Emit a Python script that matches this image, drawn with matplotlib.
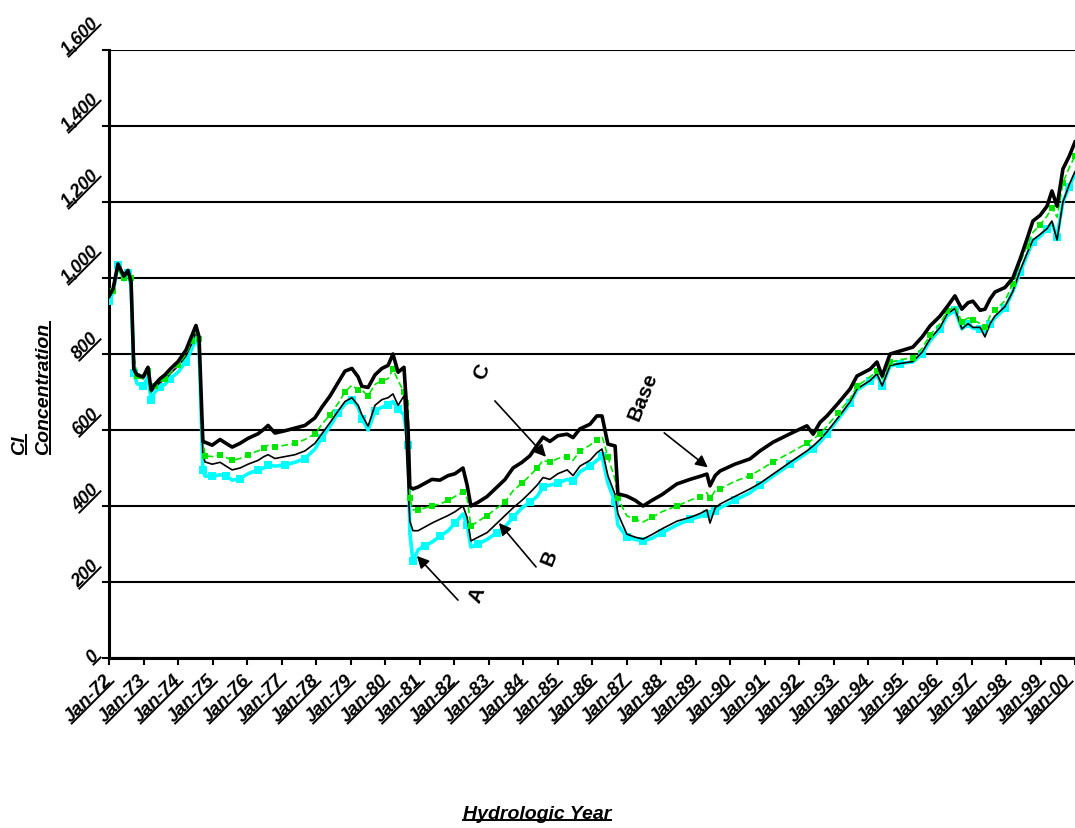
import math
import matplotlib
matplotlib.use("Agg")
import matplotlib.pyplot as plt
from matplotlib.lines import Line2D
from matplotlib.transforms import ScaledTranslation

# time axis in decimal hydrologic years
years = [
    1972.00, 1972.12, 1972.26, 1972.43, 1972.55, 1972.64, 1972.72, 1972.81, 1972.99, 1973.13,
    1973.22, 1973.33, 1973.48, 1973.62, 1973.77, 1974.00, 1974.23, 1974.41, 1974.52, 1974.61,
    1974.72, 1974.78, 1974.99, 1975.22, 1975.39, 1975.57, 1975.80, 1976.03, 1976.32, 1976.49,
    1976.61, 1976.81, 1977.10, 1977.39, 1977.68, 1977.97, 1978.17, 1978.41, 1978.64, 1978.84,
    1979.04, 1979.22, 1979.33, 1979.51, 1979.71, 1979.91, 1980.09, 1980.23, 1980.38, 1980.55,
    1980.67, 1980.72, 1980.81, 1980.96, 1981.16, 1981.36, 1981.59, 1981.83, 1982.03, 1982.26,
    1982.38, 1982.49, 1982.70, 1982.96, 1983.25, 1983.48, 1983.71, 1983.97, 1984.20, 1984.41,
    1984.58, 1984.78, 1985.01, 1985.28, 1985.45, 1985.65, 1985.94, 1986.14, 1986.29, 1986.46,
    1986.67, 1986.75, 1987.01, 1987.25, 1987.48, 1987.74, 1988.03, 1988.46, 1988.84, 1989.13,
    1989.33, 1989.42, 1989.57, 1989.71, 1990.14, 1990.58, 1990.87, 1991.25, 1991.74, 1992.23,
    1992.41, 1992.61, 1992.81, 1993.13, 1993.48, 1993.68, 1994.06, 1994.26, 1994.41, 1994.64,
    1994.93, 1995.30, 1995.57, 1995.80, 1996.09, 1996.29, 1996.52, 1996.72, 1996.90, 1997.04,
    1997.25, 1997.39, 1997.54, 1997.68, 1997.97, 1998.20, 1998.41, 1998.61, 1998.78, 1998.99,
    1999.19, 1999.33, 1999.48, 1999.65, 1999.83, 2000.00,
]

# Cl concentration, base case
base = [
    952, 972, 1037, 1005, 1020, 990, 760, 745, 740, 765,
    705, 720, 735, 745, 760, 780, 810, 850, 875, 845,
    570, 568, 560, 575, 565, 555, 565, 578, 590, 602,
    612, 592, 598, 605, 612, 632, 660, 690, 725, 755,
    762, 740, 715, 712, 745, 762, 770, 800, 752, 765,
    600, 450, 445, 450, 460, 470, 468, 480, 485, 500,
    455, 400, 410, 425, 450, 470, 500, 515, 532, 560,
    581, 570, 585, 589, 580, 603, 615, 637, 637, 563,
    558, 432, 426, 415, 400, 415, 430, 458, 470, 478,
    484, 453, 480, 492, 510, 524, 545, 568, 590, 611,
    589, 620, 637, 670, 708, 742, 760, 779, 742, 800,
    808, 818, 845, 874, 900, 924, 953, 918, 935, 939,
    915, 918, 945, 963, 975, 1000, 1050, 1103, 1150, 1165,
    1189, 1229, 1189, 1287, 1320, 1358,
]

# alternative C
alt_c = [
    948, 965, 1022, 1000, 1010, 1000, 800, 742, 735, 755,
    700, 715, 728, 735, 750, 770, 800, 835, 860, 840,
    600, 532, 530, 535, 528, 520, 525, 535, 545, 552,
    560, 555, 560, 565, 575, 590, 615, 640, 670, 700,
    718, 705, 705, 690, 720, 730, 735, 760, 730, 700,
    680, 420, 390, 390, 395, 400, 405, 415, 425, 437,
    420, 347, 360, 375, 395, 410, 440, 460, 480, 500,
    520, 515, 525, 530, 520, 545, 560, 575, 584, 530,
    470, 420, 374, 365, 358, 370, 385, 400, 415, 425,
    435, 420, 440, 445, 465, 480, 495, 516, 540, 565,
    576, 590, 610, 645, 682, 715, 740, 755, 735, 778,
    785, 790, 815, 850, 880, 912, 925, 885, 895, 890,
    880, 870, 900, 915, 940, 985, 1040, 1085, 1120, 1140,
    1163, 1185, 1160, 1250, 1290, 1321,
]

# alternative B
alt_b = [
    950, 968, 1032, 1003, 1018, 990, 765, 740, 735, 755,
    700, 712, 725, 732, 748, 768, 795, 830, 858, 835,
    540, 516, 510, 515, 505, 495, 500, 510, 520, 530,
    535, 525, 530, 535, 545, 565, 590, 620, 650, 675,
    685, 665, 640, 610, 665, 680, 685, 695, 665, 690,
    450, 360, 335, 335, 345, 355, 365, 375, 385, 400,
    370, 308, 318, 330, 355, 375, 395, 415, 435, 455,
    475, 470, 485, 495, 480, 505, 520, 540, 550, 480,
    430, 380, 326, 318, 313, 325, 340, 360, 370, 380,
    390, 355, 395, 405, 425, 445, 460, 484, 515, 545,
    558, 575, 595, 632, 674, 708, 730, 748, 716, 770,
    775, 780, 805, 840, 870, 905, 920, 866, 880, 870,
    870, 845, 880, 900, 925, 965, 1020, 1065, 1100, 1115,
    1130, 1150, 1100, 1200, 1245, 1280,
]

# alternative A
alt_a = [
    940, 962, 1035, 995, 1012, 980, 750, 722, 715, 740,
    680, 700, 712, 720, 735, 752, 780, 815, 840, 820,
    495, 479, 478, 482, 480, 468, 472, 485, 495, 500,
    508, 505, 508, 515, 525, 550, 580, 610, 645, 668,
    680, 660, 630, 600, 650, 660, 665, 675, 655, 640,
    560, 330, 255, 285, 295, 305, 320, 335, 355, 379,
    350, 292, 300, 312, 330, 345, 370, 395, 410, 425,
    450, 455, 460, 470, 465, 490, 505, 520, 532, 460,
    410, 350, 318, 312, 308, 315, 330, 350, 365, 372,
    380, 372, 388, 395, 415, 435, 455, 479, 510, 540,
    550, 568, 590, 628, 670, 705, 728, 745, 716, 768,
    775, 779, 800, 835, 865, 900, 915, 866, 878, 868,
    865, 855, 878, 895, 920, 965, 1015, 1060, 1095, 1110,
    1129, 1145, 1108, 1200, 1240, 1274,
]

y_ticks = [0, 200, 400, 600, 800, 1000, 1200, 1400, 1600]
y_tick_labels = ["0", "200", "400", "600", "800", "1,000", "1,200", "1,400", "1,600"]
x_ticks = list(range(1972, 2001))
x_tick_labels = [f"Jan-{y % 100:02d}" for y in x_ticks]

plt.rcParams['font.family'] = ['Liberation Sans', 'DejaVu Sans']

fig = plt.figure(figsize=(10.75, 8.29), dpi=100)
ax = fig.add_axes([109 / 1075, 170 / 829, 966 / 1075, 608 / 829])
ax.set_xlim(1972, 2000)
ax.set_ylim(0, 1600)

# series, bottom to top
ax.plot(years, alt_a, color='#00ffff', lw=2.6, marker='s', ms=6, mew=0,
        markevery=2, zorder=3)
ax.plot(years, alt_b, color='black', lw=1.2, zorder=4)
ax.plot(years, alt_c, color='#00e600', lw=1.2, ls=(0, (4, 2)), marker='s', ms=5,
        mew=0, markevery=(1, 2), zorder=5)
ax.plot(years, base, color='black', lw=2.6, zorder=6)

ax.set_xticks(x_ticks)
ax.set_yticks(y_ticks)
ax.yaxis.grid(True, color='black', lw=1.5)
ax.set_axisbelow(True)
ax.tick_params(direction='out', length=5, width=1.5, color='black',
               labelleft=False, labelbottom=False)
for side in ['top', 'right']:
    ax.spines[side].set_visible(False)
for side in ['left', 'bottom']:
    ax.spines[side].set_linewidth(2.2)

font = dict(weight='bold', style='italic')
under = []

# tick labels drawn as text so they can be underlined
for v, lbl in zip(y_ticks, y_tick_labels):
    tr = ax.get_yaxis_transform() + ScaledTranslation(-0.07, -0.08, fig.dpi_scale_trans)
    t = ax.text(0, v, lbl, transform=tr, ha='right', va='bottom', rotation=45,
                fontsize=13, **font)
    under.append(t)
for x, lbl in zip(x_ticks, x_tick_labels):
    dx = 0.06 if x < x_ticks[-1] else -0.01   # keep the last one inside the figure
    tr = ax.get_xaxis_transform() + ScaledTranslation(dx, -0.13, fig.dpi_scale_trans)
    t = ax.text(x, 0, lbl, transform=tr, ha='right', va='top', rotation=45,
                fontsize=13.5, **font)
    under.append(t)

under.append(fig.text(537 / 1075, 1 - 815 / 829, "Hydrologic Year", ha='center',
                      va='center', fontsize=14, **font))
under.append(fig.text(20 / 1075, 1 - 455 / 829, "Cl", rotation=90, ha='center',
                      va='bottom', fontsize=14, **font))
under.append(fig.text(44 / 1075, 1 - 455 / 829, "Concentration", rotation=90,
                      ha='center', va='bottom', fontsize=14, **font))

# scenario labels with arrows
arrow = dict(arrowstyle='-|>', color='black', lw=1.2, mutation_scale=18)
ax.annotate("", xy=(1984.72, 524), xytext=(1983.13, 682), arrowprops=arrow)
ax.annotate("", xy=(1989.42, 497), xytext=(1988.03, 597), arrowprops=arrow)
ax.annotate("", xy=(1983.25, 361), xytext=(1984.43, 234), arrowprops=arrow)
ax.annotate("", xy=(1980.87, 274), xytext=(1982.17, 147), arrowprops=arrow)
ax.text(1982.81, 755, "C", rotation=68, ha='center', va='center', fontsize=15, weight='bold')
ax.text(1987.48, 690, "Base", rotation=68, ha='center', va='center', fontsize=15, weight='bold')
ax.text(1984.75, 266, "B", rotation=68, ha='center', va='center', fontsize=15, weight='bold')
ax.text(1982.67, 168, "A", rotation=68, ha='center', va='center', fontsize=15, weight='bold')


def underline(t, renderer):
    rot = math.radians(t.get_rotation())
    c, s = math.cos(rot), math.sin(rot)
    probe = fig.text(0, 0, t.get_text(), fontproperties=t.get_fontproperties())
    pb = probe.get_window_extent(renderer)
    probe.remove()
    w, h = pb.width, pb.height
    bb = t.get_window_extent(renderer)
    d = 0.12 * h
    x0 = bb.x0 + h * s - d * s
    y0 = bb.y0 + d * c
    x1 = x0 + w * c
    y1 = y0 + w * s
    pts = fig.transFigure.inverted().transform([(x0, y0), (x1, y1)])
    fig.add_artist(Line2D(pts[:, 0], pts[:, 1], transform=fig.transFigure,
                          color='black', lw=1.4))


fig.canvas.draw()
renderer = fig.canvas.get_renderer()
for t in under:
    underline(t, renderer)

fig.savefig("out.png", dpi=100)
